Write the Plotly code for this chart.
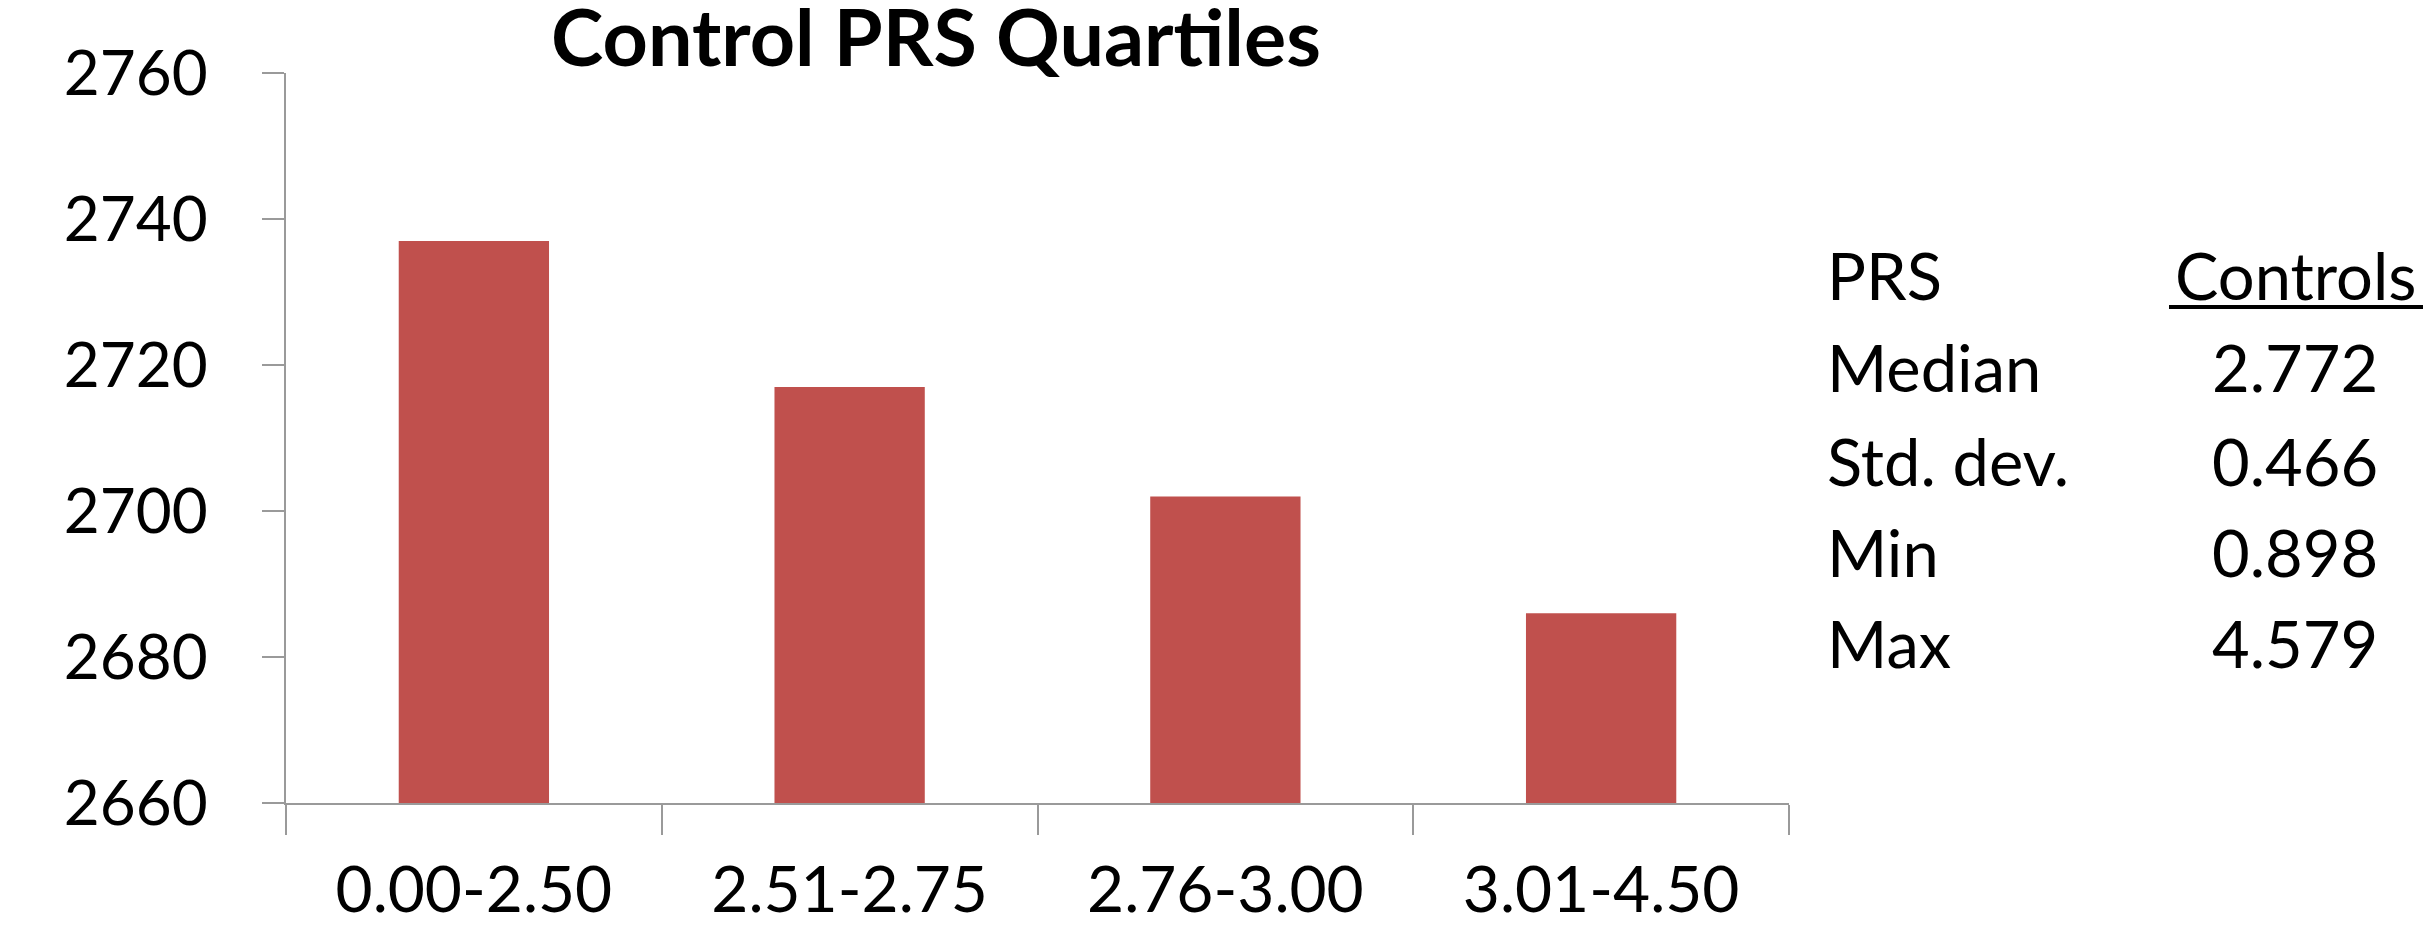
import plotly.graph_objects as go

# Bar data
categories = ["0.00-2.50", "2.51-2.75", "2.76-3.00", "3.01-4.50"]
values = [2737, 2717, 2702, 2686]
y_ticks = [2660, 2680, 2700, 2720, 2740, 2760]

# Summary table beside the chart
table_header = ["PRS", "Controls"]
stat_names = ["Median", "Std. dev.", "Min", "Max"]
stat_values = ["2.772", "0.466", "0.898", "4.579"]

W, H = 2425, 929
L, R, T, B = 286, 636, 73, 126
FONT = "Lato"
BAR_COLOR = "#C0504D"
AXIS_COLOR = "#9A9A9A"
FS = 62
TABLE_FS = 65

fig = go.Figure(
    go.Bar(x=categories, y=values, marker=dict(color=BAR_COLOR, line=dict(width=0)))
)

fig.update_layout(
    width=W, height=H,
    margin=dict(l=L, r=R, t=T, b=B, pad=0, autoexpand=False),
    paper_bgcolor="white", plot_bgcolor="white",
    bargap=0.6,
    showlegend=False,
    font=dict(family=FONT, size=FS, color="black"),
    title=dict(
        text="<b>Control PRS Quartiles</b>",
        font=dict(family=FONT, size=79, color="black"),
        x=936 / W, xanchor="center", xref="container",
        y=1 - 38 / H, yanchor="middle", yref="container",
    ),
)

fig.update_yaxes(
    range=[2660, 2760], tickvals=y_ticks, automargin=False,
    showgrid=False, zeroline=False,
    showline=True, linecolor=AXIS_COLOR, linewidth=2,
    ticks="outside", ticklen=22, tickwidth=2, tickcolor=AXIS_COLOR,
    ticklabelstandoff=42,
    tickfont=dict(family=FONT, size=FS),
)
fig.update_xaxes(
    type="category", tickson="boundaries", automargin=False,
    showgrid=False, zeroline=False,
    showline=True, linecolor=AXIS_COLOR, linewidth=2,
    ticks="outside", ticklen=30, tickwidth=2, tickcolor=AXIS_COLOR,
    ticklabelstandoff=30,
    tickfont=dict(family=FONT, size=64),
)

# Table text, positioned in pixel terms converted to paper coords
plot_w = W - L - R
plot_h = H - T - B


def px_x(x):
    return (x - L) / plot_w


def px_y(y):
    return 1 - (y - T) / plot_h


row_y = [367, 461, 552, 643]
fig.add_annotation(text=table_header[0], x=px_x(1825), y=px_y(275),
                   xref="paper", yref="paper", xanchor="left", yanchor="middle",
                   showarrow=False, font=dict(family=FONT, size=TABLE_FS))
fig.add_annotation(text=table_header[1], x=px_x(2418), y=px_y(275),
                   xref="paper", yref="paper", xanchor="right", yanchor="middle",
                   showarrow=False, font=dict(family=FONT, size=TABLE_FS))
fig.add_shape(type="line", xref="paper", yref="paper",
              x0=px_x(2169), x1=px_x(2423), y0=px_y(307), y1=px_y(307),
              line=dict(color="black", width=4))
for name, val, yy in zip(stat_names, stat_values, row_y):
    fig.add_annotation(text=name, x=px_x(1825), y=px_y(yy),
                       xref="paper", yref="paper", xanchor="left", yanchor="middle",
                       showarrow=False, font=dict(family=FONT, size=TABLE_FS))
    fig.add_annotation(text=val, x=px_x(2380), y=px_y(yy),
                       xref="paper", yref="paper", xanchor="right", yanchor="middle",
                       showarrow=False, font=dict(family=FONT, size=TABLE_FS))

fig.write_html("out.html")
